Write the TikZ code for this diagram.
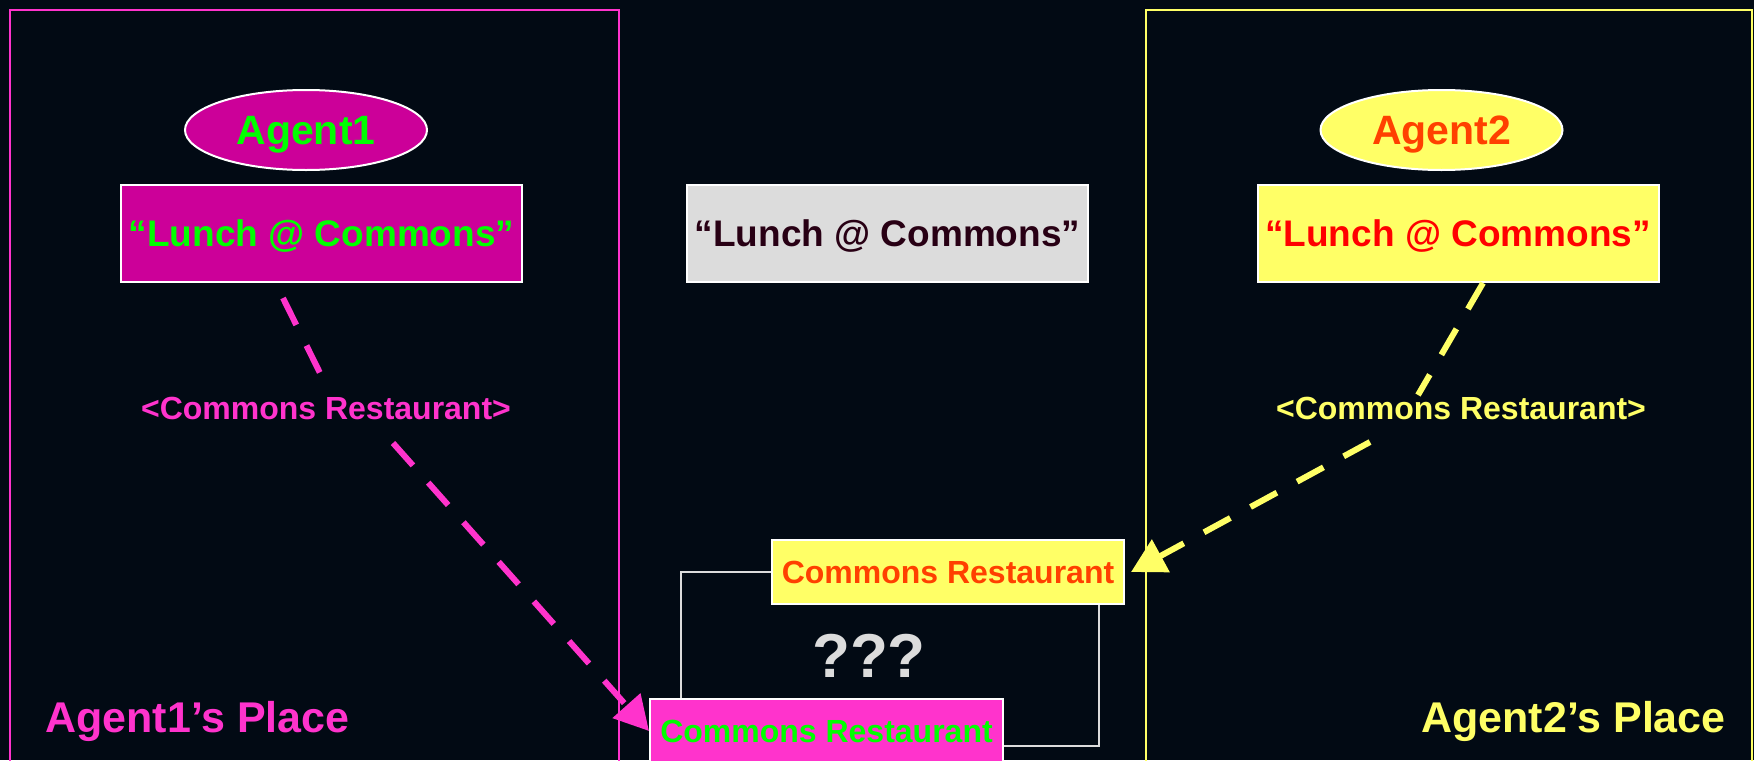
\documentclass[tikz,border=0pt]{standalone}
\usepackage{fontspec}
\setmainfont{Liberation Sans}
\usetikzlibrary{arrows.meta,shapes.geometric,calc}
\definecolor{bgc}{RGB}{2,10,20}
\definecolor{mag}{RGB}{204,0,153}
\definecolor{pnk}{RGB}{255,51,204}
\definecolor{grn}{RGB}{0,255,0}
\definecolor{ylw}{RGB}{255,255,102}
\definecolor{org}{RGB}{255,64,0}
\definecolor{rd}{RGB}{255,0,0}
\definecolor{lgray}{RGB}{220,220,220}
\definecolor{dtext}{RGB}{40,0,20}
\tikzset{
  txt/.style={font=\bfseries, inner sep=0pt, text depth=0pt},
  agentnode/.style={txt, ellipse, draw=white, line width=1pt, minimum width=121pt, minimum height=40pt, font=\fontsize{20.5pt}{24pt}\selectfont\bfseries},
  lunchbox/.style={txt, rectangle, draw=white, line width=1pt, minimum width=200.5pt, minimum height=48.5pt, font=\fontsize{18.5pt}{22pt}\selectfont\bfseries},
  restbox/.style={txt, rectangle, draw=white, line width=1pt, minimum width=176pt, minimum height=32pt, font=\fontsize{16pt}{19pt}\selectfont\bfseries},
  linklabel/.style={txt, font=\fontsize{16pt}{19pt}\selectfont\bfseries},
  placelabel/.style={txt, anchor=west, font=\fontsize{21.5pt}{25pt}\selectfont\bfseries},
  frameline/.style={line width=1pt},
  greyconn/.style={draw=lgray, line width=1pt},
  dasharrow/.style={line width=3pt, dash pattern=on 15pt off 11.5pt, -{Triangle[length=17pt,width=18pt]}}
}
\begin{document}
\begin{tikzpicture}[x=0.5pt,y=-0.5pt]
\fill[bgc] (0,0) rectangle (1754,760);
\useasboundingbox (0,0) rectangle (1754,760);
% frames
\draw[frameline, pnk] (10,790) -- (10,10) -- (619,10) -- (619,790);
\draw[frameline, ylw] (1146,790) -- (1146,10) -- (1752,10) -- (1752,790);
% nodes
\node[agentnode, fill=mag, text=grn] (ag1) at (306,130) {Agent1};
\node[agentnode, fill=ylw, text=org] (ag2) at (1441.5,130) {Agent2};
\node[lunchbox, fill=mag, text=grn] (l1) at (321.5,233.5) {“Lunch @ Commons”};
\node[lunchbox, fill=lgray, text=dtext] (l0) at (887.5,233.5) {“Lunch @ Commons”};
\node[lunchbox, fill=ylw, text=rd] (l2) at (1458,233.5) {“Lunch @ Commons”};
\node[restbox, fill=ylw, text=org] (yb) at (948,572) {Commons Restaurant};
\node[restbox, fill=pnk, text=grn, minimum width=176.5pt] (pb) at (826.5,731) {Commons Restaurant};
\node[txt, text=lgray, font=\fontsize{31pt}{36pt}\selectfont\bfseries] (qq) at (869,656) {???};
\node[linklabel, text=pnk] (lab1) at (326,408) {<Commons Restaurant>};
\node[linklabel, text=ylw] (lab2) at (1461,408) {<Commons Restaurant>};
\node[placelabel, text=pnk] (pl1) at (45,717) {Agent1’s Place};
\node[placelabel, text=ylw] (pl2) at (1421,717) {Agent2’s Place};
% grey connectors between the two restaurant boxes
\draw[greyconn] (yb.west) -| ([xshift=16pt]pb.north west);
\draw[greyconn] ([xshift=-13pt]yb.south east) |- ([yshift=-7.5pt]pb.east);
% dashed arrows
\coordinate (p1s) at (283,298);
\coordinate (p1e) at (320,373);
\coordinate (p2s) at (393,443);
\draw[dasharrow, pnk] (p1s) -- (p1e) (p2s) -- (pb.west);
\coordinate (y1s) at (1483,283);
\coordinate (y1e) at (1418,395);
\coordinate (y2s) at (1370,442);
\draw[dasharrow, ylw] (y1s) -- (y1e) (y2s) -- ([xshift=3pt]yb.east);
\end{tikzpicture}
\end{document}
